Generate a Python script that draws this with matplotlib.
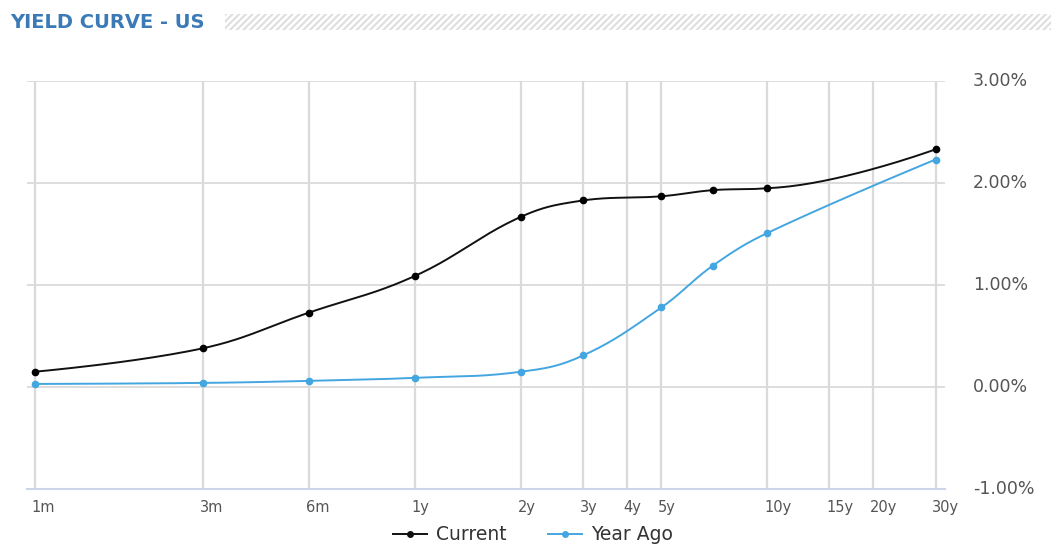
import numpy as np
import matplotlib.pyplot as plt
from matplotlib.patches import Rectangle
from matplotlib.lines import Line2D

# tenors in months
tenors = [1, 3, 6, 12, 24, 36, 60, 84, 120, 360]
current = [0.15, 0.38, 0.73, 1.09, 1.67, 1.83, 1.87, 1.93, 1.95, 2.33]
year_ago = [0.03, 0.04, 0.06, 0.09, 0.15, 0.31, 0.78, 1.19, 1.51, 2.23]

tick_months = [1, 3, 6, 12, 24, 36, 48, 60, 120, 180, 240, 360]
tick_labels = ['1m', '3m', '6m', '1y', '2y', '3y', '4y', '5y', '10y', '15y', '20y', '30y']
y_ticks = [-1, 0, 1, 2, 3]


def spline(xs, ys, n=40):
    # highcharts-like spline in log-x space
    lx = np.log(np.array(xs, dtype=float))
    y = np.array(ys, dtype=float)
    sm, den = 1.5, 2.5
    m = len(lx)
    lc = [(lx[i], y[i]) for i in range(m)]
    rc = [(lx[i], y[i]) for i in range(m)]
    for i in range(1, m - 1):
        px, py = lx[i], y[i]
        lX, lY = lx[i - 1], y[i - 1]
        nX, nY = lx[i + 1], y[i + 1]
        lcx = (sm * px + lX) / den
        lcy = (sm * py + lY) / den
        rcx = (sm * px + nX) / den
        rcy = (sm * py + nY) / den
        corr = 0.0
        if rcx != lcx:
            corr = (rcy - lcy) * (rcx - px) / (rcx - lcx) + py - rcy
        lcy += corr
        rcy += corr
        if lcy > lY and lcy > py:
            lcy = max(lY, py)
            rcy = 2 * py - lcy
        elif lcy < lY and lcy < py:
            lcy = min(lY, py)
            rcy = 2 * py - lcy
        if rcy > nY and rcy > py:
            rcy = max(nY, py)
            lcy = 2 * py - rcy
        elif rcy < nY and rcy < py:
            rcy = min(nY, py)
            lcy = 2 * py - rcy
        lc[i] = (lcx, lcy)
        rc[i] = (rcx, rcy)
    t = np.linspace(0, 1, n)
    ox, oy = [], []
    for i in range(m - 1):
        p0 = np.array([lx[i], y[i]])
        p1 = np.array(rc[i])
        p2 = np.array(lc[i + 1])
        p3 = np.array([lx[i + 1], y[i + 1]])
        b = ((1 - t) ** 3)[:, None] * p0 + (3 * (1 - t) ** 2 * t)[:, None] * p1 \
            + (3 * (1 - t) * t ** 2)[:, None] * p2 + (t ** 3)[:, None] * p3
        ox.extend(b[:, 0])
        oy.extend(b[:, 1])
    return np.exp(ox), np.array(oy)


W, H = 1051, 544
fig = plt.figure(figsize=(W / 100, H / 100), dpi=100)
ax = fig.add_axes([27 / W, 1 - 489 / H, (945 - 27) / W, (489 - 81) / H])

ax.set_xscale('log')
ax.set_xlim(0.949, 383)
ax.set_ylim(-1, 3)

grid_c = '#dadada'
for tm in tick_months:
    ax.axvline(tm, color=grid_c, lw=1.6, zorder=1)
for yv in y_ticks[1:]:
    ax.axhline(yv, color=grid_c, lw=1.3, zorder=1)

for s in ax.spines.values():
    s.set_visible(False)
ax.axhline(-1, color='#ccd6eb', lw=1.5, zorder=1, clip_on=False)

blue = '#44a6e0'
cx, cy = spline(tenors, current)
ax.plot(cx, cy, color='#111111', lw=1.4, zorder=3)
ax.plot(tenors, current, 'o', color='#000000', ms=4.5, zorder=4)
bx, by = spline(tenors, year_ago)
ax.plot(bx, by, color=blue, lw=1.4, zorder=3)
ax.plot(tenors, year_ago, 'o', color=blue, ms=4.5, zorder=4)

ax.set_xticks([])
ax.set_yticks([])
ax.minorticks_off()

lab_c = '#555555'
for tm, lab in zip(tick_months, tick_labels):
    ax.annotate(lab, xy=(tm, -1), xycoords='data', xytext=(-2.5, -13),
                textcoords='offset points', ha='left', va='center',
                fontsize=10.5, color=lab_c, annotation_clip=False)

for yv in y_ticks:
    ax.annotate(f'{yv:.2f}%', xy=(1, yv), xycoords=('axes fraction', 'data'),
                xytext=(20, 0), textcoords='offset points', ha='left',
                va='center', fontsize=12.5, color=lab_c, annotation_clip=False)

# title and hatched band
fig.text(10 / W, 1 - 22 / H, 'YIELD CURVE - US', fontsize=14, fontweight='bold',
         color='#3b7ab6', ha='left', va='center')
plt.rcParams['hatch.linewidth'] = 1.5
fig.add_artist(Rectangle((225 / W, 1 - 30 / H), (W - 225) / W, 16 / H,
                         transform=fig.transFigure, facecolor='none',
                         edgecolor='#dedede', linewidth=0, hatch='/////'))

# legend
handles = [Line2D([], [], color='#111111', marker='o', ms=4, lw=1.4),
           Line2D([], [], color=blue, marker='o', ms=4, lw=1.4)]
fig.legend(handles, ['Current', 'Year Ago'], loc='center', ncol=2,
           bbox_to_anchor=(533 / W, 1 - 535 / H), frameon=False,
           fontsize=13.5, handlelength=1.8, columnspacing=2.2,
           handletextpad=0.5, labelcolor='#333333')

fig.savefig('out.png', dpi=100)
